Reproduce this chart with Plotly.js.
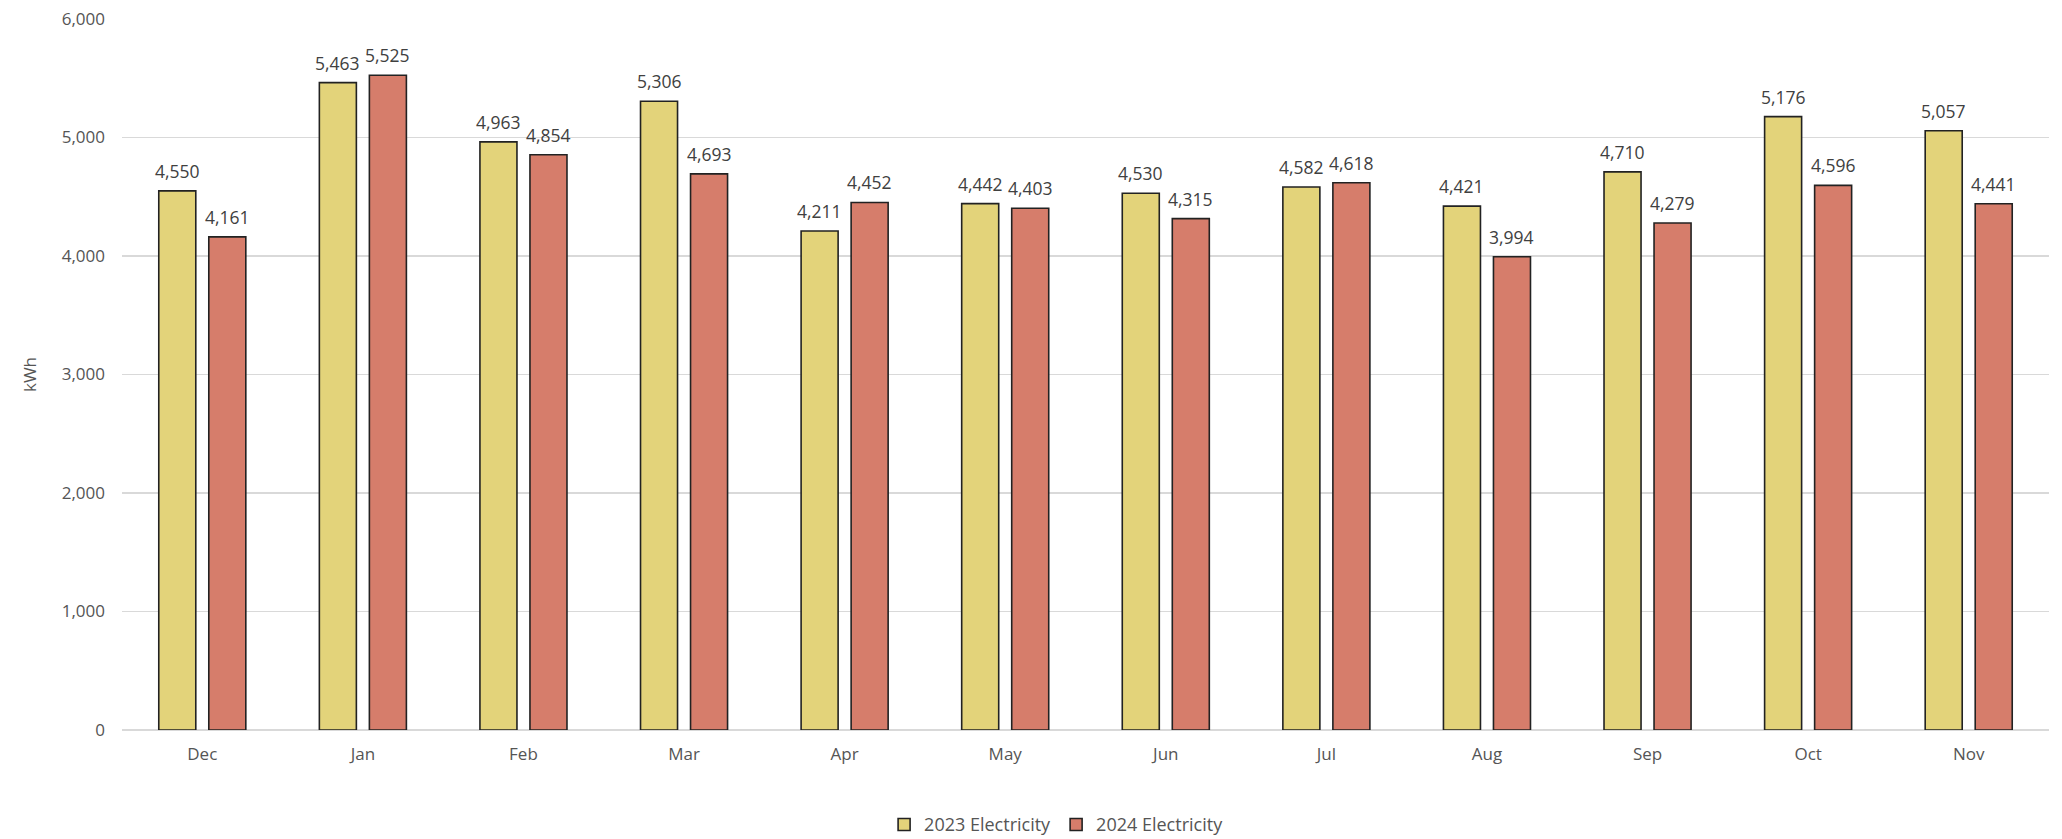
<!DOCTYPE html>
<html>
<head>
<meta charset="utf-8">
<script src="https://cdn.plot.ly/plotly-3.0.1.min.js"></script>
<style>
  html, body { margin: 0; padding: 0; background: #ffffff; }
  #chart { width: 2062px; height: 839px; }
</style>
</head>
<body>
<div id="chart"></div>
<script>
// Monthly electricity use, kWh
const months = ["Dec", "Jan", "Feb", "Mar", "Apr", "May", "Jun", "Jul", "Aug", "Sep", "Oct", "Nov"];
const elec2023 = [4550, 5463, 4963, 5306, 4211, 4442, 4530, 4582, 4421, 4710, 5176, 5057];
const elec2024 = [4161, 5525, 4854, 4693, 4452, 4403, 4315, 4618, 3994, 4279, 4596, 4441];
const seriesNames = ["2023 Electricity", "2024 Electricity"];
const yTicks = [0, 1000, 2000, 3000, 4000, 5000, 6000];

const FONT = "Open Sans, Lato, sans-serif";
const fills = ["#E3D37A", "#D67D6B"];
const outline = { color: "#222222", width: 1.6 };

const traces = [elec2023, elec2024].map((vals, k) => ({
  type: "bar",
  name: seriesNames[k],
  x: months,
  y: vals,
  marker: { color: fills[k], line: outline },
  hoverinfo: "x+y+name"
}));

// Value labels above each bar, shifted left/right onto its bar within the group
const fmt = v => v.toLocaleString("en-US");
const annotations = [];
[elec2023, elec2024].forEach((vals, k) => {
  vals.forEach((v, i) => {
    annotations.push({
      x: months[i], y: v, xref: "x", yref: "y",
      text: fmt(v), showarrow: false,
      xanchor: "center", yanchor: "bottom",
      xshift: k === 0 ? -25 : 25, yshift: 6,
      font: { family: FONT, size: 17.5, color: "#404040" }
    });
  });
});

const layout = {
  width: 2062, height: 839,
  margin: { l: 122, r: 13, t: 19, b: 109 },
  paper_bgcolor: "#ffffff", plot_bgcolor: "#ffffff",
  barmode: "group",
  bargap: 0.377,
  bargroupgap: 0.26,
  font: { family: FONT, size: 17, color: "#555555" },
  showlegend: true,
  legend: {
    orientation: "h",
    xref: "paper", x: 0.485, xanchor: "center",
    yref: "container", y: 0.017, yanchor: "middle",
    font: { family: FONT, size: 18, color: "#555555" },
    itemwidth: 30,
    traceorder: "normal"
  },
  xaxis: {
    type: "category",
    showgrid: false,
    showline: false,
    ticks: "",
    ticklabelstandoff: 12,
    tickfont: { family: FONT, size: 17, color: "#555555" }
  },
  yaxis: {
    range: [0, 6000],
    tickvals: yTicks,
    tickformat: ",d",
    showgrid: true,
    gridcolor: "#d9d9d9",
    gridwidth: 1.5,
    zeroline: true,
    zerolinecolor: "#d9d9d9",
    zerolinewidth: 1.5,
    showline: false,
    ticks: "",
    ticklabelstandoff: 16,
    automargin: false,
    tickfont: { family: FONT, size: 17, color: "#555555" },
    title: { text: "kWh", font: { family: FONT, size: 17, color: "#555555" }, standoff: 20 }
  },
  annotations: annotations
};

Plotly.newPlot("chart", traces, layout, { displayModeBar: false, staticPlot: true });
</script>
</body>
</html>
